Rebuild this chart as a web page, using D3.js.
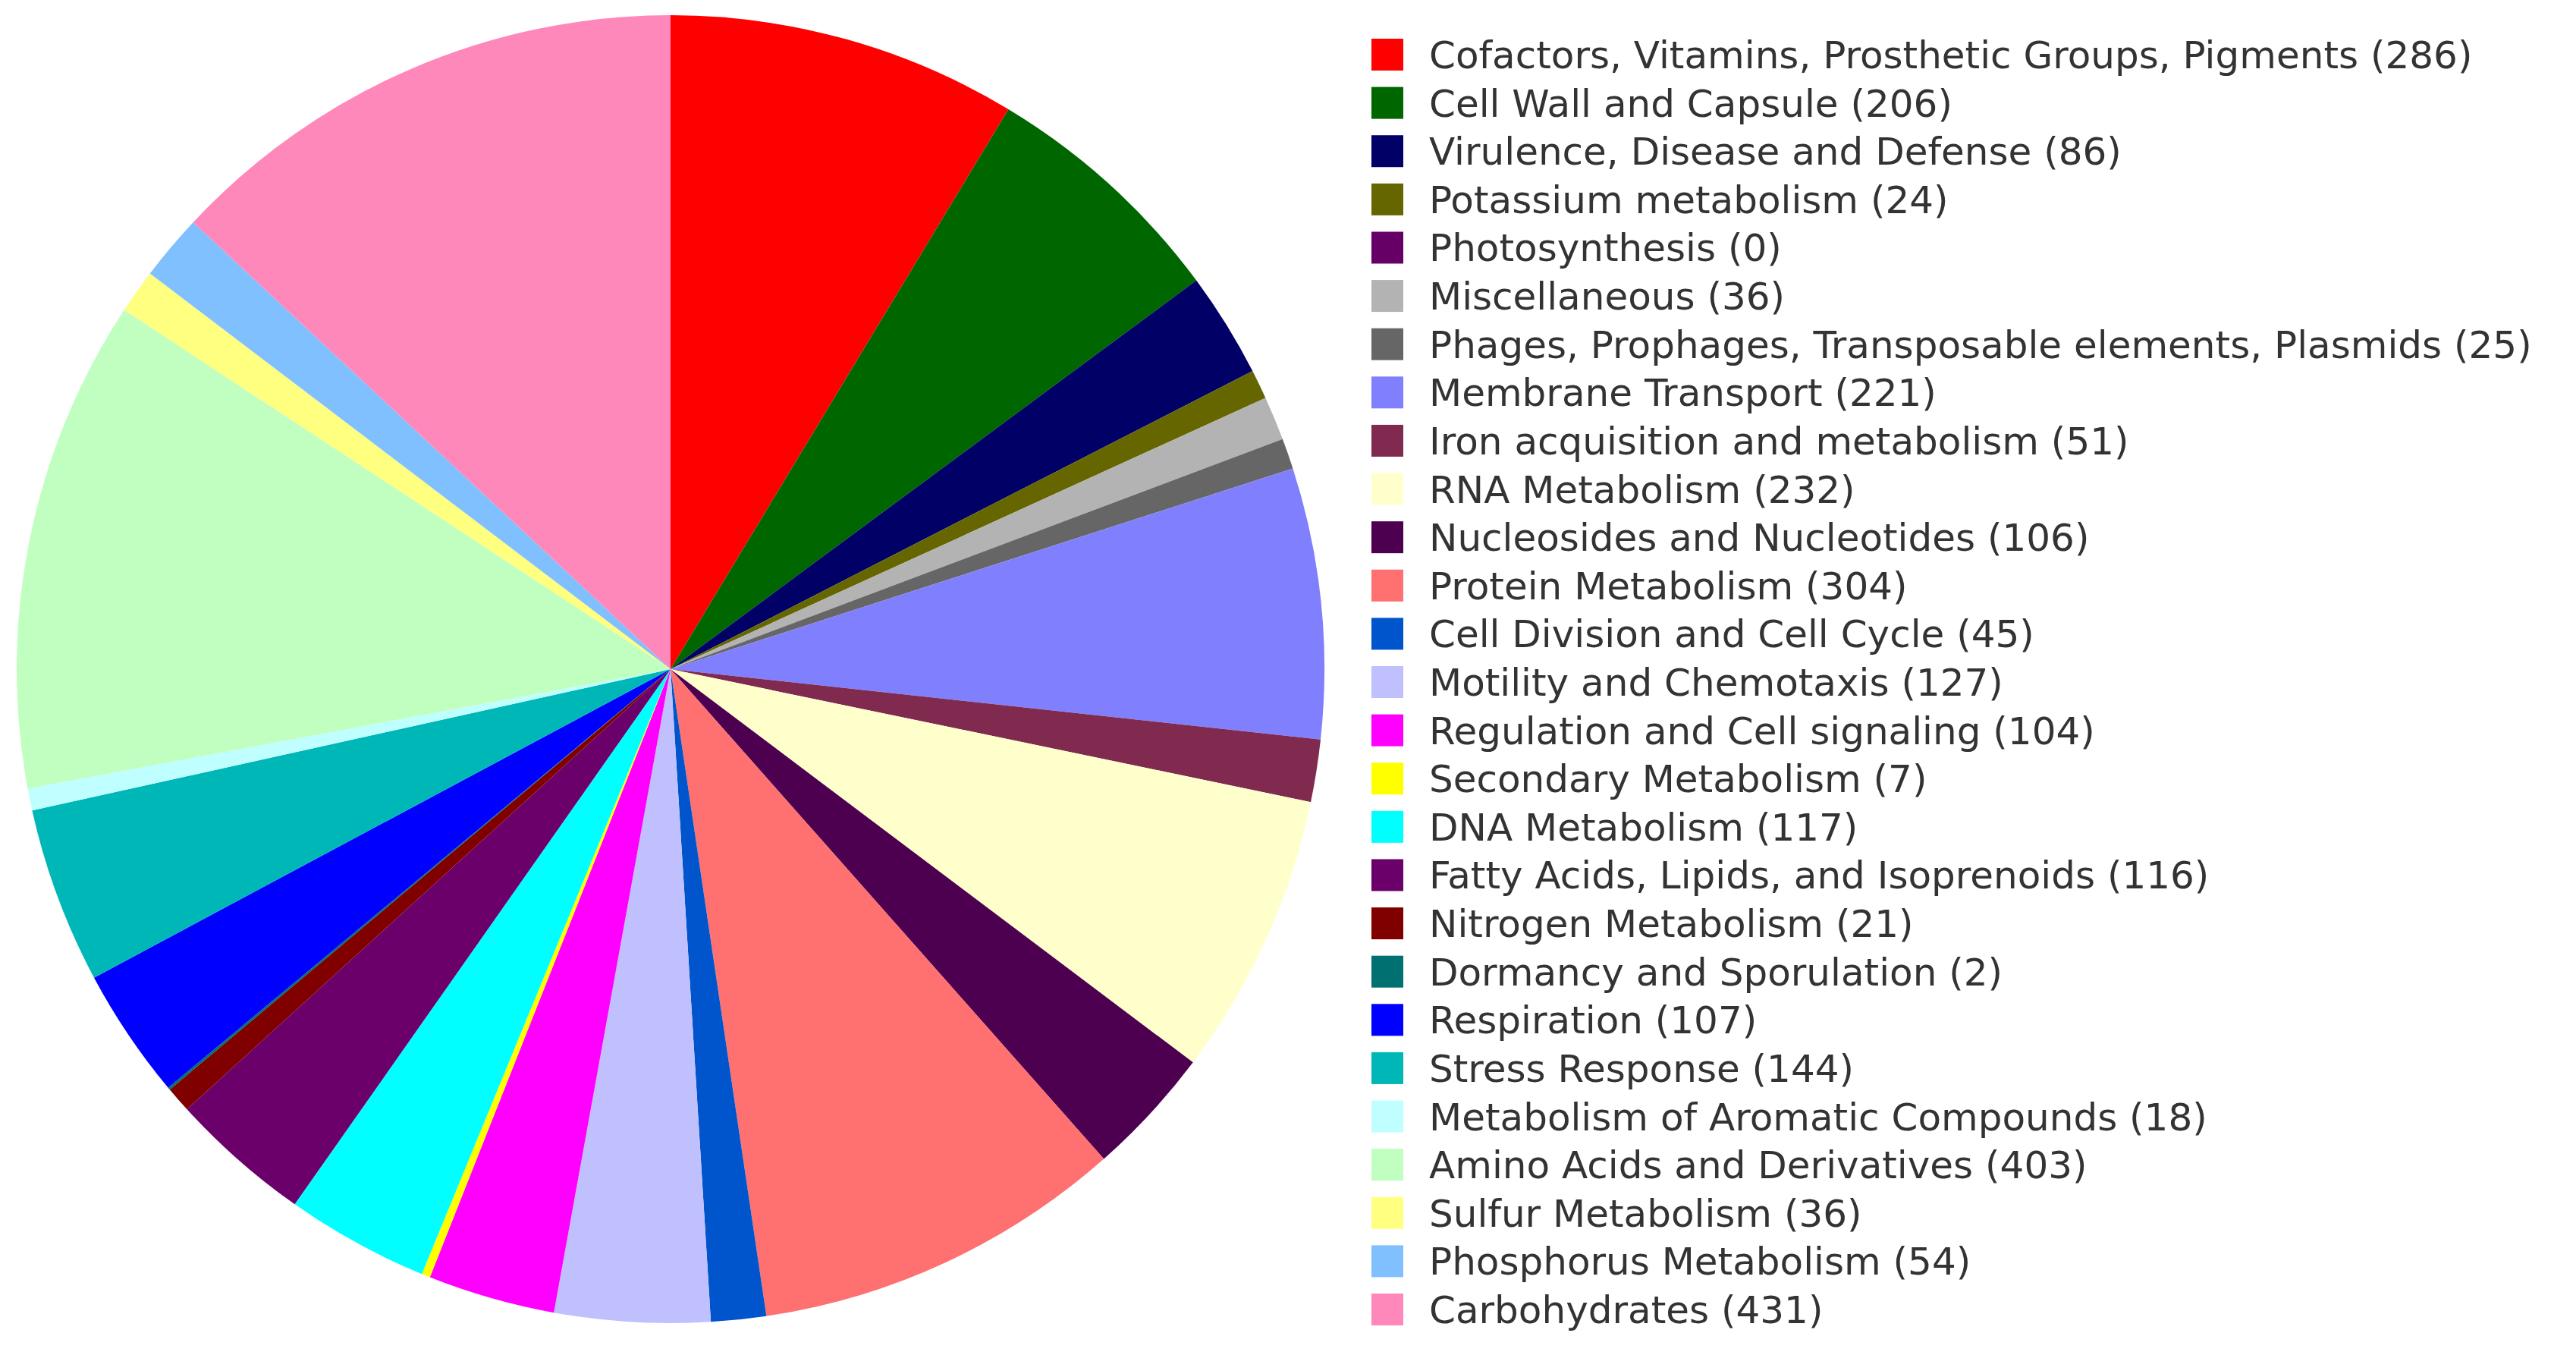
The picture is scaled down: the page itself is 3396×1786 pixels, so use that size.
<!DOCTYPE html>
<html><head><meta charset="utf-8">
<script src="https://cdn.jsdelivr.net/npm/d3@7"></script>
<style>body{margin:0;background:#fff}</style></head>
<body><svg id="c" width="3396" height="1786"></svg>
<script>
const categories = ["Cofactors, Vitamins, Prosthetic Groups, Pigments","Cell Wall and Capsule","Virulence, Disease and Defense","Potassium metabolism","Photosynthesis","Miscellaneous","Phages, Prophages, Transposable elements, Plasmids","Membrane Transport","Iron acquisition and metabolism","RNA Metabolism","Nucleosides and Nucleotides","Protein Metabolism","Cell Division and Cell Cycle","Motility and Chemotaxis","Regulation and Cell signaling","Secondary Metabolism","DNA Metabolism","Fatty Acids, Lipids, and Isoprenoids","Nitrogen Metabolism","Dormancy and Sporulation","Respiration","Stress Response","Metabolism of Aromatic Compounds","Amino Acids and Derivatives","Sulfur Metabolism","Phosphorus Metabolism","Carbohydrates"];
const values = [286,206,86,24,0,36,25,221,51,232,106,304,45,127,104,7,117,116,21,2,107,144,18,403,36,54,431];
const colors = ["#ff0000","#006600","#000066","#666600","#660066","#b3b3b3","#666666","#8080ff","#802a50","#ffffcc","#4d0050","#ff7070","#0055cc","#c0c0ff","#ff00ff","#ffff00","#00ffff","#6b006b","#800000","#007070","#0000ff","#00b7b7","#c0ffff","#c0ffc0","#ffff80","#80c0ff","#ff88bb"];

const svg = d3.select("#c");
const cx = 884, cy = 882, r = 862;
const pie = d3.pie().sort(null).value(d => d)(values);
const arc = d3.arc().innerRadius(0).outerRadius(r);
svg.append("g").attr("transform",`translate(${cx},${cy})`)
  .selectAll("path").data(pie).enter().append("path")
  .attr("d", arc).attr("fill", (d,i) => colors[i]);

const y = d3.scalePoint().domain(d3.range(categories.length)).range([72, 1726]);
const lg = svg.append("g").selectAll("g").data(categories).enter().append("g")
  .attr("transform",(d,i)=>`translate(0,${y(i)})`);
lg.append("rect").attr("x",1808).attr("y",-21).attr("width",42).attr("height",42).attr("fill",(d,i)=>colors[i]);
lg.append("text").attr("x",1884).attr("y",0).attr("dy","0.36em")
  .attr("font-family","DejaVu Sans, Verdana, sans-serif").attr("font-size",50).attr("fill","#333")
  .text((d,i)=>`${d} (${values[i]})`);
</script></body></html>
